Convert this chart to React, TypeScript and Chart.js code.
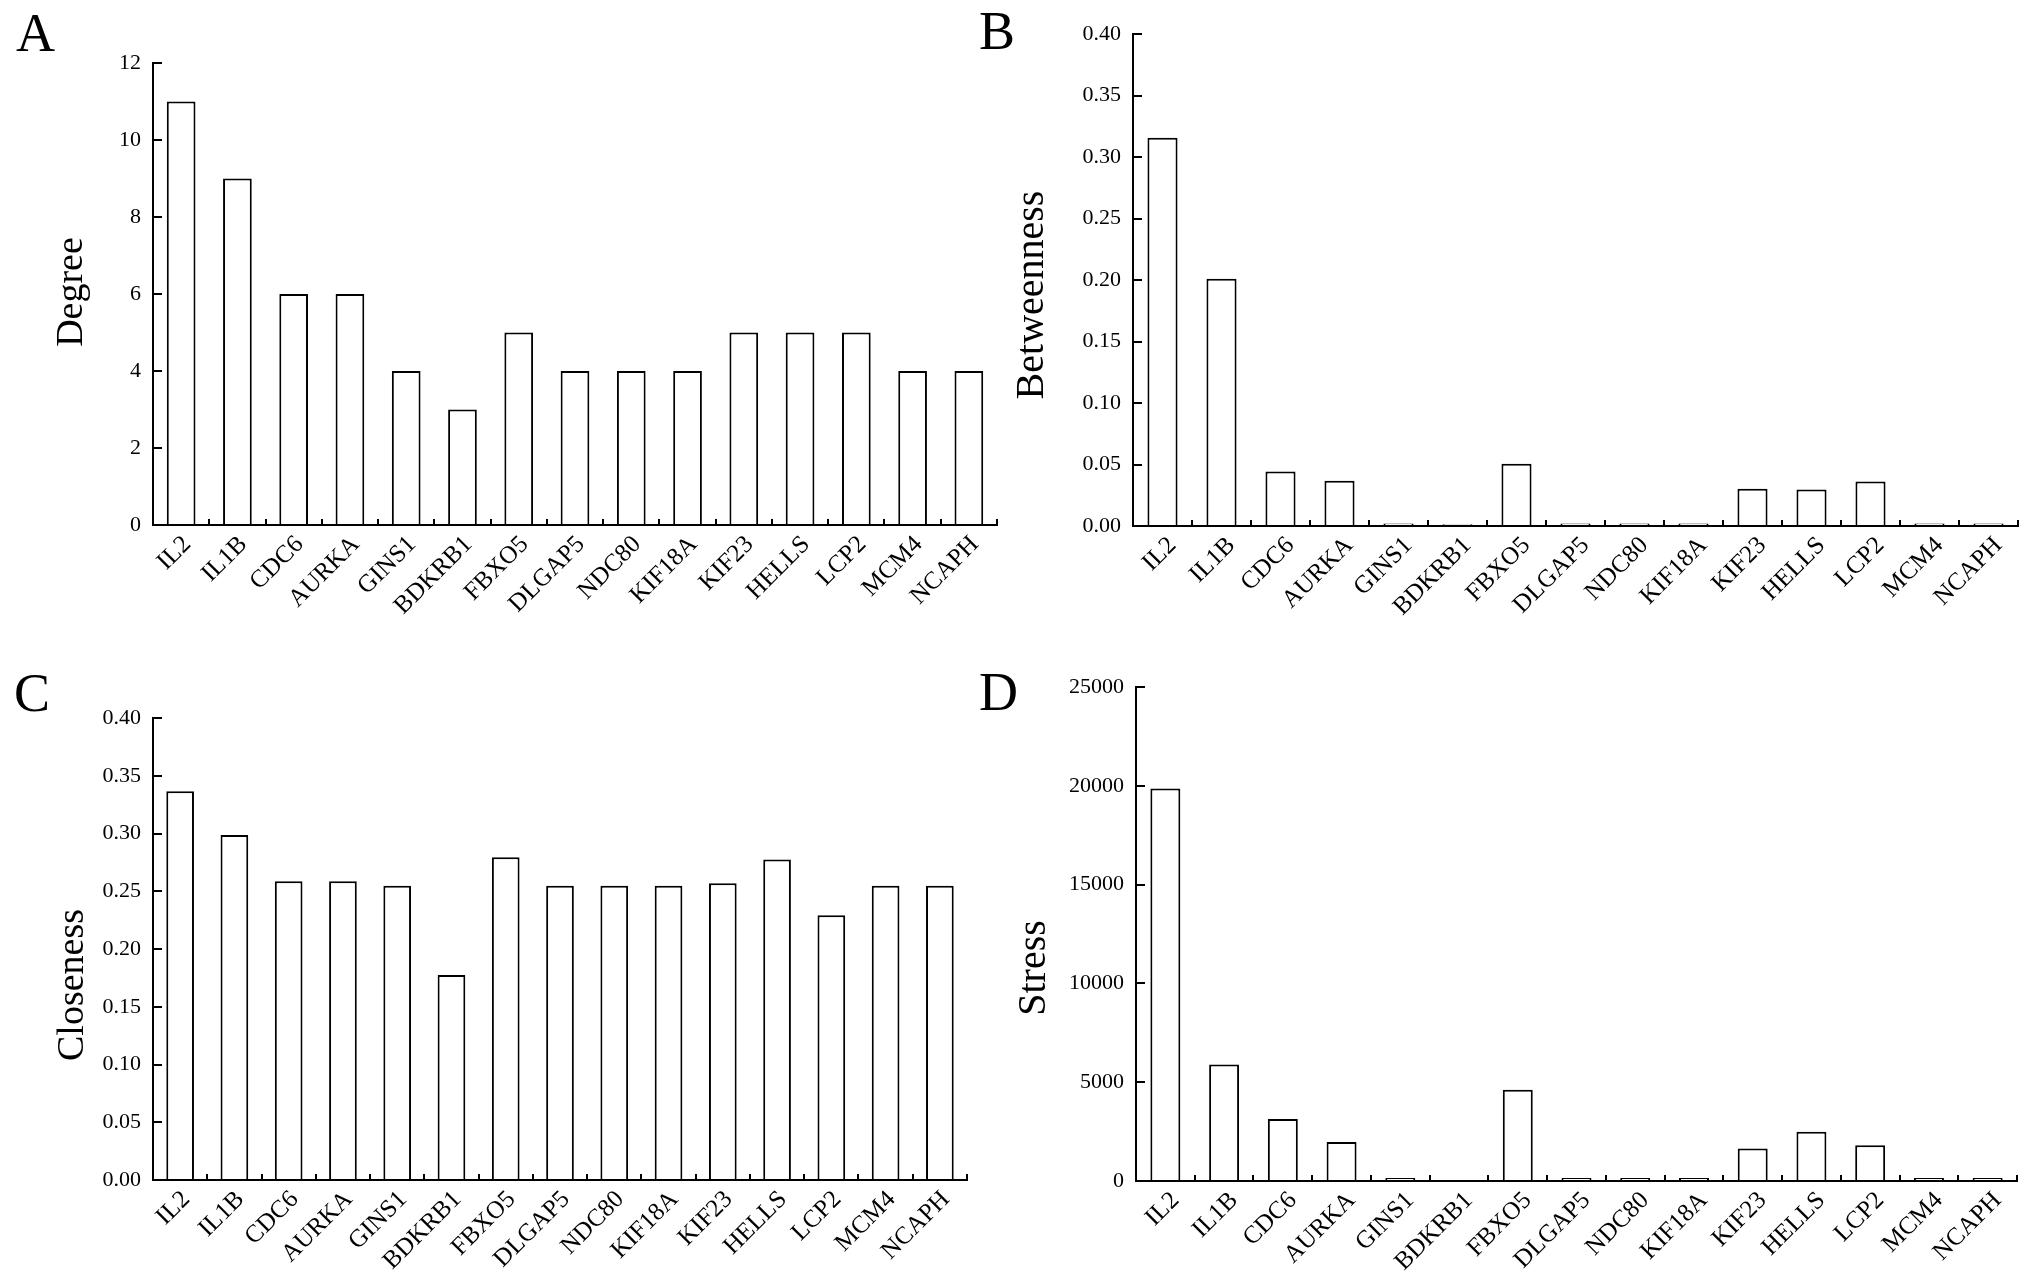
import React, { useEffect, useRef } from "react";
import { Chart, registerables } from "chart.js";

Chart.register(...registerables);

// ---------- data ----------
const genes = ["IL2", "IL1B", "CDC6", "AURKA", "GINS1", "BDKRB1", "FBXO5", "DLGAP5", "NDC80", "KIF18A", "KIF23", "HELLS", "LCP2", "MCM4", "NCAPH"];
const degree = [11, 9, 6, 6, 4, 3, 5, 4, 4, 4, 5, 5, 5, 4, 4];
const betweenness = [0.3158, 0.201, 0.0444, 0.0369, 0.002, 0.0015, 0.0506, 0.002, 0.002, 0.002, 0.0303, 0.0297, 0.0362, 0.002, 0.002];
const closeness = [0.3366, 0.2987, 0.2586, 0.2586, 0.2547, 0.1775, 0.2795, 0.2547, 0.2547, 0.2547, 0.2569, 0.2774, 0.2292, 0.2547, 0.2547];
const stress = [19868, 5894, 3133, 1979, 150, 0, 4617, 150, 150, 150, 1649, 2494, 1814, 150, 150];

const FONT = "'Liberation Serif', 'Times New Roman', Times, serif";

type PanelCfg = {
  letter: string;
  title: string;
  values: number[];
  max: number;
  step: number;
  decimals: number;
  frame: { cx: number; cy: number; cw: number; ch: number };
  plot: { left: number; right: number; top: number; bottom: number };
  letterPos: { x: number; y: number };
  titlePos: { x: number; y: number; size: number };
  labelOffset: number;
};

const panels: PanelCfg[] = [
  {
    letter: "A", title: "Degree", values: degree, max: 12, step: 2, decimals: 0,
    frame: { cx: 0, cy: 0, cw: 1010, ch: 640 },
    plot: { left: 153, right: 997, top: 63, bottom: 525 },
    letterPos: { x: 16, y: 51 },
    titlePos: { x: 82, y: 292, size: 38 },
    labelOffset: 6,
  },
  {
    letter: "B", title: "Betweenness", values: betweenness, max: 0.4, step: 0.05, decimals: 2,
    frame: { cx: 960, cy: 0, cw: 1071, ch: 640 },
    plot: { left: 1133, right: 2018, top: 25, bottom: 526 },
    letterPos: { x: 979, y: 49 },
    titlePos: { x: 1043, y: 295, size: 40 },
    labelOffset: 10,
  },
  {
    letter: "C", title: "Closeness", values: closeness, max: 0.4, step: 0.05, decimals: 2,
    frame: { cx: 0, cy: 640, cw: 1010, ch: 639 },
    plot: { left: 153, right: 967, top: 718, bottom: 1180 },
    letterPos: { x: 14, y: 711 },
    titlePos: { x: 83, y: 985, size: 38 },
    labelOffset: 6,
  },
  {
    letter: "D", title: "Stress", values: stress, max: 25000, step: 5000, decimals: 0,
    frame: { cx: 960, cy: 640, cw: 1071, ch: 639 },
    plot: { left: 1136, right: 2017, top: 687, bottom: 1181 },
    letterPos: { x: 979, y: 710 },
    titlePos: { x: 1045, y: 968, size: 40 },
    labelOffset: 10,
  },
];

function makeDecor(cfg: PanelCfg) {
  return {
    id: "decor" + cfg.letter,
    afterDraw(chart: any) {
      const ctx = chart.ctx as CanvasRenderingContext2D;
      const { cx, cy } = cfg.frame;
      ctx.save();
      ctx.fillStyle = "#000";
      ctx.textBaseline = "alphabetic";
      ctx.textAlign = "left";
      ctx.font = `54px ${FONT}`;
      ctx.fillText(cfg.letter, cfg.letterPos.x - cx, cfg.letterPos.y - cy);
      ctx.translate(cfg.titlePos.x - cx, cfg.titlePos.y - cy);
      ctx.rotate(-Math.PI / 2);
      ctx.textAlign = "center";
      ctx.font = `${cfg.titlePos.size}px ${FONT}`;
      ctx.fillText(cfg.title, 0, 0);
      ctx.restore();
    },
  };
}

function Panel({ cfg }: { cfg: PanelCfg }) {
  const ref = useRef<HTMLCanvasElement>(null);
  useEffect(() => {
    const canvas = ref.current;
    if (!canvas) return;
    const { cx, cy, cw, ch } = cfg.frame;
    const chart = new Chart(canvas, {
      type: "bar",
      data: {
        labels: genes,
        datasets: [
          {
            data: cfg.values,
            backgroundColor: "#ffffff",
            borderColor: "#000000",
            borderWidth: 2,
            borderSkipped: "start",
            categoryPercentage: 0.51,
            barPercentage: 1,
          },
        ],
      },
      options: {
        responsive: false,
        animation: false,
        devicePixelRatio: 1,
        layout: {
          padding: { top: cfg.plot.top - cy, right: cx + cw - cfg.plot.right, left: 0, bottom: 0 },
        },
        plugins: { legend: { display: false }, tooltip: { enabled: false }, title: { display: false } },
        scales: {
          x: {
            grid: { offset: true, drawOnChartArea: false, drawTicks: true, tickLength: -6, lineWidth: 2, color: "#000" },
            border: { display: true, color: "#000", width: 2, z: 1 },
            ticks: {
              autoSkip: false,
              minRotation: 45,
              maxRotation: 45,
              padding: 11,
              labelOffset: cfg.labelOffset,
              color: "#000",
              font: { family: FONT, size: 25 },
            },
            afterFit: (s: any) => {
              s.height = cy + ch - cfg.plot.bottom;
            },
          },
          y: {
            min: 0,
            max: cfg.max,
            ticks: {
              stepSize: cfg.step,
              padding: 21,
              color: "#000",
              font: { family: FONT, size: 22 },
              callback: (v: any) => Number(v).toFixed(cfg.decimals),
            },
            grid: { drawOnChartArea: false, drawTicks: true, tickLength: -9, lineWidth: 2, color: "#000" },
            border: { display: true, color: "#000", width: 2 },
            afterFit: (s: any) => {
              s.width = cfg.plot.left - cx;
            },
          },
        },
      } as any,
      plugins: [makeDecor(cfg)],
    });
    return () => chart.destroy();
  }, [cfg]);
  const { cx, cy, cw, ch } = cfg.frame;
  return (
    <canvas
      ref={ref}
      width={cw}
      height={ch}
      style={{ position: "absolute", left: cx, top: cy, width: cw, height: ch }}
    />
  );
}

export default function App() {
  return (
    <div
      style={{
        position: "fixed",
        left: 0,
        top: 0,
        width: 2031,
        height: 1279,
        background: "#ffffff",
        overflow: "hidden",
      }}
    >
      {panels.map((p) => (
        <Panel key={p.letter} cfg={p} />
      ))}
    </div>
  );
}
